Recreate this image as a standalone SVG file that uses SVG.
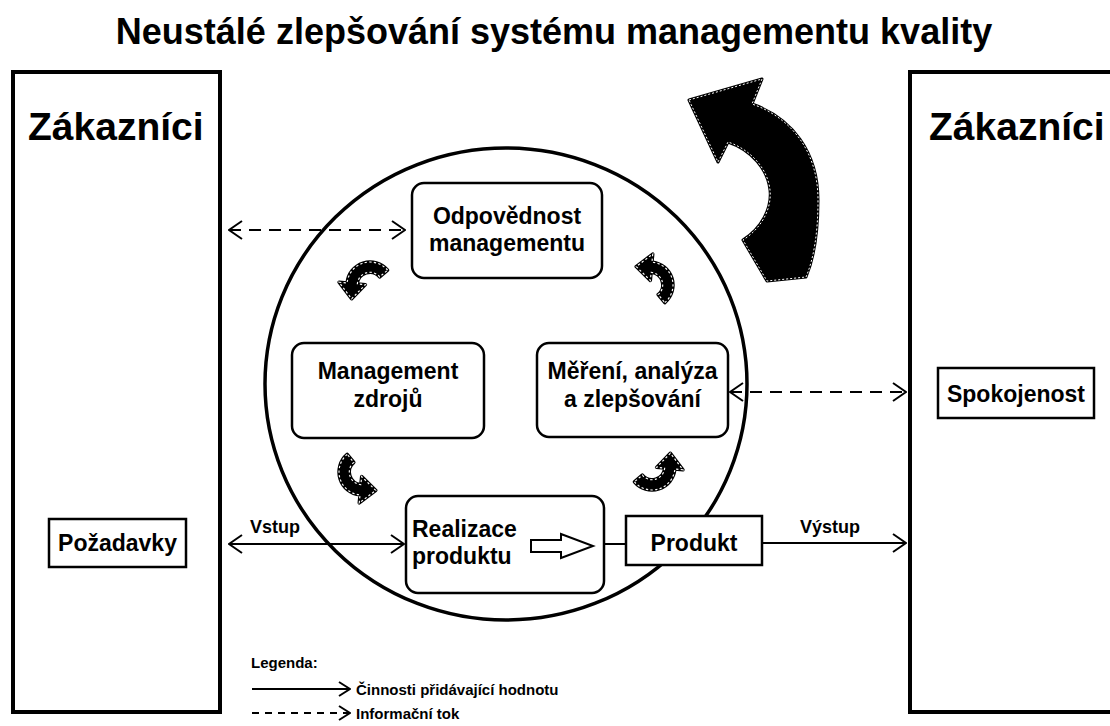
<svg xmlns="http://www.w3.org/2000/svg" width="1110" height="726" viewBox="0 0 1110 726">
  <style>
    text { font-family: "Liberation Sans", Arial, sans-serif; font-weight: bold; fill: #000; }
    .title { font-size: 36px; }
    .big { font-size: 39px; }
    .lbl { font-size: 23px; }
    .small { font-size: 18px; }
    .leg { font-size: 15px; }
    .frame { fill: #fff; stroke: #000; stroke-width: 4; }
    .box { fill: #fff; stroke: #000; stroke-width: 2.5; }
    .conn { fill: none; stroke: #000; stroke-width: 2; }
    .dash { stroke-dasharray: 12 8; }
    .blob { fill: #000; stroke: #000; stroke-width: 3; stroke-linejoin: round; }
    .seam { fill: none; stroke: #fff; stroke-width: 1; stroke-dasharray: 2 2; }
  </style>
  <defs>
    <marker id="chev" viewBox="0 0 15 20" refX="14" refY="10" markerWidth="15" markerHeight="20" markerUnits="userSpaceOnUse" orient="auto-start-reverse">
      <path d="M1,1 L14,10 L1,19" fill="none" stroke="#000" stroke-width="2"/>
    </marker>
    <marker id="chevS" viewBox="0 0 13 16" refX="12" refY="8" markerWidth="13" markerHeight="16" markerUnits="userSpaceOnUse" orient="auto">
      <path d="M1,1 L12,8 L1,15" fill="none" stroke="#000" stroke-width="2"/>
    </marker>
    <!-- small curved cycle arrow, counter-clockwise, head pointing down -->
    <path id="cyc" d="M15.3,-12.9 A20,20 0 0 0 -19.9,-1.7 L-26.9,-2.4 L-16,12 L-4,-0.3 L-11,-1 A11,11 0 0 1 8.4,-7.1 Z"/>
  </defs>

  <rect width="1110" height="726" fill="#fff"/>

  <text class="title" x="554" y="44" text-anchor="middle">Neustálé zlepšování systému managementu kvality</text>

  <!-- customers, left -->
  <g id="customers-left">
    <rect class="frame" x="13" y="72" width="207" height="640"/>
    <text class="big" x="28" y="140">Zákazníci</text>
  </g>
  <!-- customers, right -->
  <g id="customers-right">
    <rect class="frame" x="910" y="72" width="240" height="640"/>
    <text class="big" x="929" y="140">Zákazníci</text>
  </g>

  <g id="requirements">
    <rect class="box" x="49" y="519" width="137" height="48"/>
    <text class="lbl" x="117.5" y="551" text-anchor="middle">Požadavky</text>
  </g>

  <g id="satisfaction">
    <rect class="box" x="938" y="368" width="156" height="50"/>
    <text class="lbl" x="1016" y="402" text-anchor="middle">Spokojenost</text>
  </g>

  <!-- quality management system -->
  <g id="qms-circle">
    <ellipse cx="506" cy="384" rx="241" ry="236" fill="none" stroke="#000" stroke-width="3.5"/>
  </g>

  <g id="management-responsibility">
    <rect class="box" x="412" y="183" width="190" height="95" rx="12"/>
    <text class="lbl" x="507" y="224" text-anchor="middle">Odpovědnost</text>
    <text class="lbl" x="507" y="251" text-anchor="middle">managementu</text>
  </g>

  <g id="resource-management">
    <rect class="box" x="292" y="343" width="192" height="95" rx="12"/>
    <text class="lbl" x="388" y="379" text-anchor="middle">Management</text>
    <text class="lbl" x="388" y="407" text-anchor="middle">zdrojů</text>
  </g>

  <g id="measurement">
    <rect class="box" x="537" y="343" width="191" height="94" rx="12"/>
    <text class="lbl" x="632.5" y="379" text-anchor="middle">Měření, analýza</text>
    <text class="lbl" x="632.5" y="407" text-anchor="middle">a zlepšování</text>
  </g>

  <g id="product-realization">
    <rect class="box" x="406" y="496" width="198" height="97" rx="12"/>
    <text class="lbl" x="412" y="537">Realizace</text>
    <text class="lbl" x="412" y="564">produktu</text>
    <path d="M531,540 H561 V534 L593,546 L561,558 V552 H531 Z" fill="#fff" stroke="#000" stroke-width="2" stroke-linejoin="miter"/>
  </g>

  <g id="product">
    <rect class="box" x="626" y="516" width="136" height="49"/>
    <text class="lbl" x="694" y="551" text-anchor="middle">Produkt</text>
  </g>

  <!-- cycle arrows inside the circle -->
  <g id="cycle-arrows">
    <g transform="translate(370,285) scale(1.15)">
      <use href="#cyc" class="blob"/><use href="#cyc" class="seam"/>
    </g>
    <g transform="translate(362,472) rotate(-90) scale(1.15)">
      <use href="#cyc" class="blob"/><use href="#cyc" class="seam"/>
    </g>
    <g transform="translate(652,467) rotate(180) scale(1.15)">
      <use href="#cyc" class="blob"/><use href="#cyc" class="seam"/>
    </g>
    <g transform="translate(650,285) rotate(90) scale(1.15)">
      <use href="#cyc" class="blob"/><use href="#cyc" class="seam"/>
    </g>
  </g>

  <!-- continual improvement arrow -->
  <g id="improvement-arrow">
    <path class="blob" d="M689,100 L762,79 L752,104 C792,118 818,152 818,200 C818,232 814,258 806,277 L767,281 L743,240 C762,228 772,208 770,190 C768,170 752,150 728,142 L718,162 Z"/>
    <path class="seam" d="M689,100 L762,79 L752,104 C792,118 818,152 818,200 C818,232 814,258 806,277 L767,281 L743,240 C762,228 772,208 770,190 C768,170 752,150 728,142 L718,162 Z"/>
  </g>

  <!-- connectors -->
  <g id="connectors">
    <line class="conn dash" x1="229" y1="230" x2="405" y2="230" marker-start="url(#chev)" marker-end="url(#chev)"/>
    <line class="conn dash" x1="730" y1="392" x2="906" y2="392" marker-start="url(#chev)" marker-end="url(#chev)"/>
    <line class="conn" x1="229" y1="544" x2="404" y2="544" marker-start="url(#chev)" marker-end="url(#chev)"/>
    <line class="conn" x1="604" y1="544" x2="626" y2="544"/>
    <line class="conn" x1="762" y1="543" x2="906" y2="543" marker-end="url(#chev)"/>
    <text class="small" x="250" y="533">Vstup</text>
    <text class="small" x="800" y="533">Výstup</text>
  </g>

  <!-- legend -->
  <g id="legend">
    <text class="leg" x="251" y="668">Legenda:</text>
    <line class="conn" x1="252" y1="689" x2="350" y2="689" marker-end="url(#chevS)"/>
    <text class="leg" x="356" y="695">Činnosti přidávající hodnotu</text>
    <line class="conn" x1="252" y1="713" x2="350" y2="713" stroke-dasharray="7 6" marker-end="url(#chevS)"/>
    <text class="leg" x="356" y="719">Informační tok</text>
  </g>
</svg>
